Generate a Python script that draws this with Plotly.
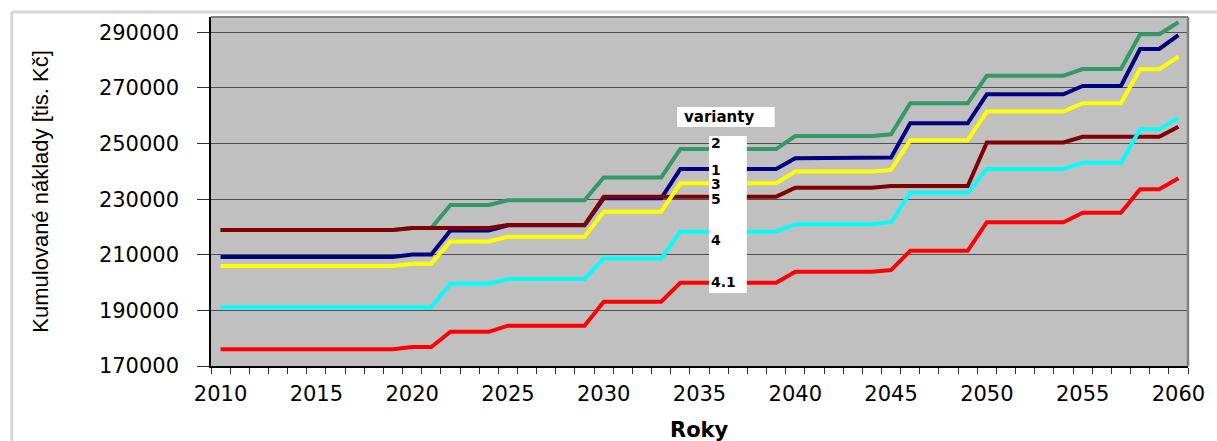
import plotly.graph_objects as go

years = list(range(2010, 2061))

var2 = [218900]*10 + [219600]*2 + [227900]*3 + [229600]*5 + [237800]*4 + [248000]*6 + \
       [252700]*5 + [253300] + [264500]*4 + [274400]*5 + [276800]*3 + [289300]*2 + [293600]
var1 = [209200]*10 + [210100]*2 + [218700]*3 + [220600]*5 + [230300]*4 + [240800]*6 + \
       [244700]*5 + [245000] + [257300]*4 + [267700]*5 + [270700]*3 + [284000]*2 + [289000]
var3 = [206000]*10 + [206800]*2 + [214800]*3 + [216500]*5 + [225500]*4 + [235700]*6 + \
       [239900]*5 + [240500] + [251200]*4 + [261500]*5 + [264500]*3 + [276700]*2 + [281200]
var5 = [218900]*10 + [219600]*5 + [220700]*5 + [230900]*10 + [234100]*5 + [234700]*5 + \
       [250400]*5 + [252400]*5 + [256000]
var4 = [191100]*12 + [199600]*3 + [201300]*5 + [208700]*4 + [218300]*6 + [221000]*5 + \
       [221700] + [232300]*4 + [240800]*5 + [243100]*3 + [255100]*2 + [259300]
var41 = [176000]*10 + [176800]*2 + [182300]*3 + [184500]*5 + [193100]*4 + [199900]*6 + \
        [203900]*5 + [204500] + [211400]*4 + [221700]*5 + [225100]*3 + [233600]*2 + [237500]

x_ticks = [2010, 2015, 2020, 2025, 2030, 2035, 2040, 2045, 2050, 2055, 2060]
y_ticks = [170000, 190000, 210000, 230000, 250000, 270000, 290000]

legend_labels = ["2", "1", "3", "5", "4", "4.1"]

series = [
    ("2", var2, "#339966"),
    ("1", var1, "#000080"),
    ("5", var5, "#800000"),
    ("3", var3, "#FFFF00"),
    ("4", var4, "#00FFFF"),
    ("4.1", var41, "#FF0000"),
]

fig = go.Figure()
for name, vals, col in series:
    fig.add_trace(go.Scatter(x=years, y=vals, mode="lines", name=name,
                             line=dict(color=col, width=4), showlegend=False))

L, R, T, B = 211, 25, 17, 75
W, H = 1217, 441
pw = W - L - R
ph = H - T - B

def px(xp):
    return (xp - L) / pw

def py(yp):
    return (H - B - yp) / ph

shapes = [
    # outer chart frame
    dict(type="line", xref="paper", yref="paper", x0=px(11), x1=px(1230), y0=py(12), y1=py(12),
         line=dict(color="#D6D6D6", width=3)),
    dict(type="line", xref="paper", yref="paper", x0=px(11), x1=px(11), y0=py(12), y1=py(460),
         line=dict(color="#D6D6D6", width=3)),
    # plot area border (top/right)
    dict(type="line", xref="paper", yref="paper", x0=0, x1=1, y0=1, y1=1,
         line=dict(color="#808080", width=2)),
    dict(type="line", xref="paper", yref="paper", x0=1, x1=1, y0=0, y1=1,
         line=dict(color="#808080", width=2.5)),
    # legend boxes
    dict(type="rect", xref="paper", yref="paper", x0=px(679), x1=px(777), y0=py(127), y1=py(107),
         fillcolor="white", line=dict(width=0), layer="above"),
    dict(type="rect", xref="paper", yref="paper", x0=px(711), x1=px(749), y0=py(293), y1=py(136),
         fillcolor="white", line=dict(width=0), layer="above"),
]

label_y = [142.7, 170, 184.3, 199, 240, 281.7]
annotations = [
    dict(text="<b>varianty</b>", xref="paper", yref="paper", x=px(721), y=py(117),
         xanchor="center", yanchor="middle", showarrow=False,
         font=dict(family="DejaVu Sans", size=15, color="black")),
    dict(text="Kumulované náklady [tis. Kč]", xref="paper", yref="paper", x=px(39), y=py(192),
         xanchor="center", yanchor="middle", textangle=-90, showarrow=False,
         font=dict(family="Liberation Sans", size=22, color="black")),
    dict(text="<b>Roky</b>", xref="paper", yref="paper", x=px(701), y=py(430),
         xanchor="center", yanchor="middle", showarrow=False,
         font=dict(family="DejaVu Sans", size=21, color="black")),
]
for lab, yy in zip(legend_labels, label_y):
    annotations.append(dict(text="<b>" + lab + "</b>", xref="paper", yref="paper", x=px(711), y=py(yy),
                            xanchor="left", yanchor="middle", showarrow=False,
                            font=dict(family="DejaVu Sans", size=14, color="black")))

fig.update_layout(
    width=W, height=H,
    margin=dict(l=L, r=R, t=T, b=B, pad=0),
    paper_bgcolor="white",
    plot_bgcolor="#C0C0C0",
    shapes=shapes,
    annotations=annotations,
    xaxis=dict(
        range=[2009.5, 2060.5],
        tickmode="array", tickvals=x_ticks, ticktext=[str(v) for v in x_ticks],
        ticks="", showgrid=False, zeroline=False,
        showline=True, linecolor="black", linewidth=1.5,
        tickfont=dict(family="DejaVu Sans", size=21, color="black"),
        ticklabelstandoff=8,
        minor=dict(ticks="outside", tickmode="array",
                   tickvals=[y - 0.5 for y in years] + [2060.5],
                   ticklen=6, tickcolor="#333333", tickwidth=1, showgrid=False),
    ),
    yaxis=dict(
        range=[170000, 295500],
        tickmode="array", tickvals=y_ticks, ticktext=[str(v) for v in y_ticks],
        ticks="outside", ticklen=12, tickcolor="#333333", tickwidth=1,
        showgrid=True, gridcolor="#505050", gridwidth=1, zeroline=False,
        showline=True, linecolor="black", linewidth=1.5,
        tickfont=dict(family="DejaVu Sans", size=21, color="black"),
        ticklabelstandoff=14,
    ),
)

fig.write_html("out.html",
               config={"displayModeBar": False},
               post_script="document.body.style.margin='0px';document.body.style.padding='0px';")
